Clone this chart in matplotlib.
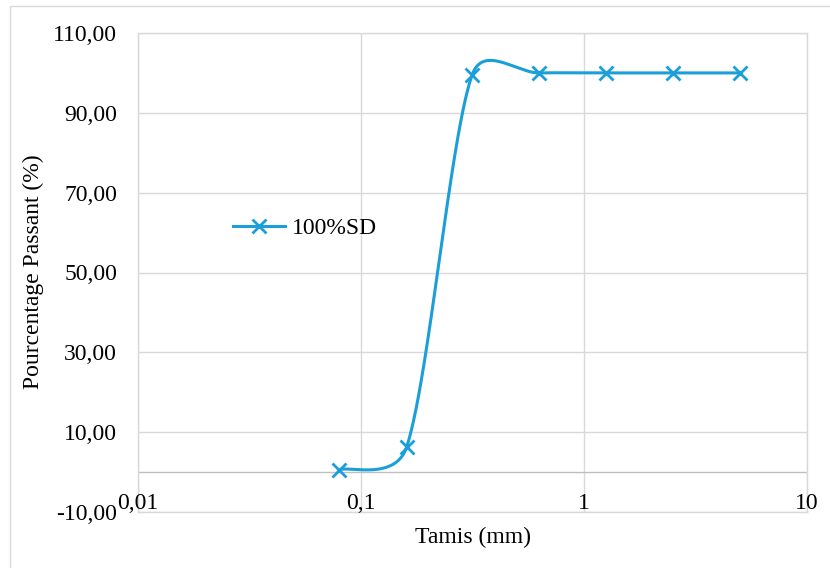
import numpy as np
import matplotlib
matplotlib.use("Agg")
import matplotlib.pyplot as plt
from matplotlib.lines import Line2D
from matplotlib.patches import Rectangle
from matplotlib.ticker import NullLocator

# Sieve analysis data
sieve_mm = [0.08, 0.16, 0.315, 0.63, 1.25, 2.5, 5.0]
passing_pct = [0.6, 6.2, 99.5, 100.0, 100.0, 100.0, 100.0]
series_name = "100%SD"

x_ticks = [0.01, 0.1, 1, 10]
x_tick_labels = ["0,01", "0,1", "1", "10"]
y_ticks = [-10, 10, 30, 50, 70, 90, 110]
y_tick_labels = ["-10,00", "10,00", "30,00", "50,00", "70,00", "90,00", "110,00"]

plt.rcParams['font.family'] = ['Liberation Serif', 'DejaVu Serif']

W, H = 830, 568
LINE_COLOR = "#1A9FD9"
GRID_COLOR = "#D9D9D9"
FS = 17

fig = plt.figure(figsize=(W / 100, H / 100), dpi=100)
fig.patch.set_facecolor("white")

# chart-area border
fig.add_artist(Rectangle((10 / W, -0.05), 1.2, 1 - 6 / H + 0.05,
                         transform=fig.transFigure, fill=False,
                         edgecolor=GRID_COLOR, lw=1.0))

ax = fig.add_axes([138 / W, 1 - 512 / H, (807 - 138) / W, (512 - 33) / H])
ax.set_xscale("log")
ax.set_xlim(0.01, 10)
ax.set_ylim(-10, 110)

for s in ax.spines.values():
    s.set_color(GRID_COLOR)
    s.set_linewidth(1.0)

ax.set_xticks(x_ticks)
ax.set_xticklabels([])
ax.xaxis.set_minor_locator(NullLocator())
ax.set_yticks(y_ticks)
ax.set_yticklabels(y_tick_labels, fontsize=FS)
ax.tick_params(axis="both", length=0)
ax.tick_params(axis="y", pad=15)
ax.grid(True, color=GRID_COLOR, lw=1.0)
ax.set_axisbelow(True)
ax.axhline(0, color="#BFBFBF", lw=1.0, zorder=1)

# x tick labels sit between the horizontal axis (y=0) and the plot bottom
for xv, lab in zip(x_ticks, x_tick_labels):
    ax.text(xv, -9.3, lab, ha="center", va="baseline", fontsize=FS,
            clip_on=False)


def smooth_curve(ax, xs, ys, n=80):
    """Bezier smoothing in display space (spreadsheet-style smoothed line)."""
    pts = ax.transData.transform(np.column_stack([xs, ys]))
    m = len(pts)
    out = []
    t = np.linspace(0, 1, n)[:, None]
    for i in range(m - 1):
        p0 = pts[max(i - 1, 0)]
        p1 = pts[i]
        p2 = pts[i + 1]
        p3 = pts[min(i + 2, m - 1)]
        seg_len = np.hypot(*(p2 - p1))
        v1 = (p2 - p0) / 6.0
        v2 = (p3 - p1) / 6.0
        for v in (v1, v2):
            mag = np.hypot(*v)
            if mag > seg_len / 2 and mag > 0:
                v *= (seg_len / 2) / mag
        c1 = p1 + v1
        c2 = p2 - v2
        seg = ((1 - t) ** 3 * p1 + 3 * (1 - t) ** 2 * t * c1
               + 3 * (1 - t) * t ** 2 * c2 + t ** 3 * p2)
        out.append(seg if i == 0 else seg[1:])
    disp = np.vstack(out)
    return ax.transData.inverted().transform(disp)


curve = smooth_curve(ax, sieve_mm, passing_pct)
ax.plot(curve[:, 0], curve[:, 1], color=LINE_COLOR, lw=2.2, zorder=3,
        solid_capstyle="round")
ax.plot(sieve_mm, passing_pct, linestyle="none", marker="x", ms=9.5,
        mew=2.0, color=LINE_COLOR, zorder=4)

handle = Line2D([], [], color=LINE_COLOR, lw=2.2, marker="x", ms=9.5, mew=2.0)
fig.legend([handle], [series_name], loc="center left",
           bbox_to_anchor=(233 / W, 1 - 228 / H), frameon=False,
           fontsize=FS, borderpad=0, borderaxespad=0,
           handlelength=2.2, handletextpad=0.3)

fig.text(473 / W, 1 - 537 / H, "Tamis (mm)", ha="center", va="center",
         fontsize=FS)
fig.text(33 / W, 1 - 272 / H, "Pourcentage Passant (%)", ha="center",
         va="center", rotation=90, fontsize=FS)

fig.savefig("out.png", dpi=100)
